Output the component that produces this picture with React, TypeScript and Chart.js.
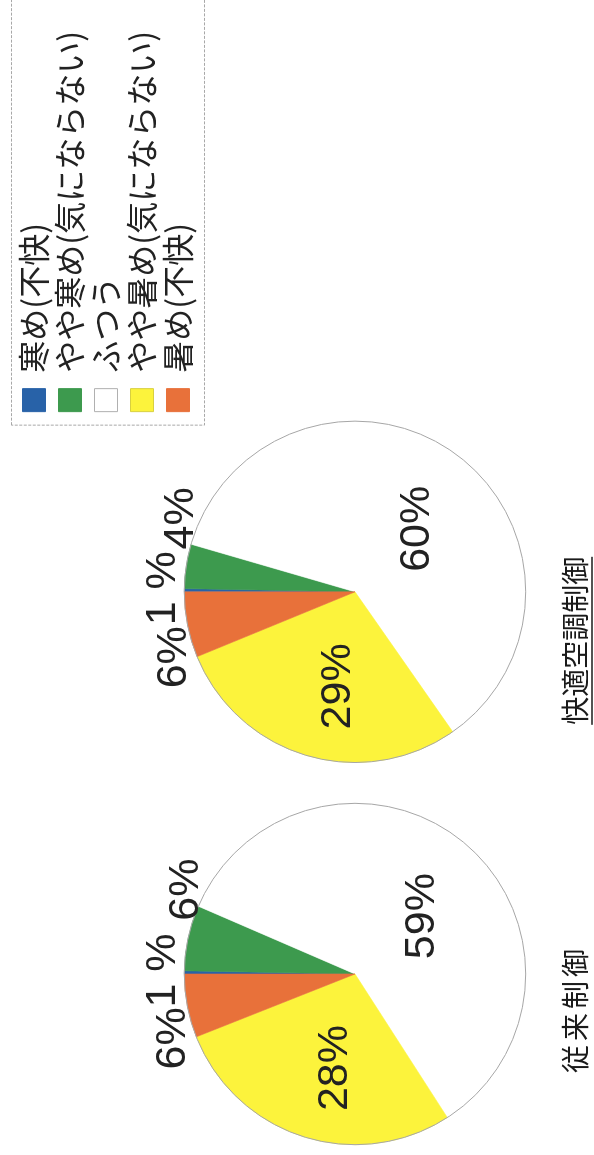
import React, { useEffect, useRef } from "react";
import { Chart, registerables } from "chart.js";

Chart.register(...registerables);

// ---- data ----
const categories = ["寒め(不快)", "やや寒め(気にならない)", "ふつう", "やや暑め(気にならない)", "暑め(不快)"];
const chartTitles = ["従来制御", "快適空調制御"];
const conventionalValues = [0.3, 6.2, 59.4, 28.1, 6.0];
const comfortValues = [0.3, 4.2, 60.8, 28.5, 6.2];
const conventionalLabels = ["1 %", "6%", "59%", "28%", "6%"];
const comfortLabels = ["1 %", "4%", "60%", "29%", "6%"];

// ---- styles ----
const sliceColors = ["#2862a8", "#3d9a4e", "#ffffff", "#fcf33c", "#e8713a"];
const legendStroke = ["#2862a8", "#3d9a4e", "#b0b0b0", "#d8d040", "#e8713a"];
// label placement: angular offset from slice middle (deg, clockwise) and radius factor
const labelAngleOffset = [0.5, 14, 8, -5, -8.5];
const labelRadiusFactor = [1.135, 1.117, 0.51, 0.565, 1.14];

const JP = "'Noto Sans CJK JP', 'Noto Sans', sans-serif";
const NUM = "'Liberation Sans', Arial, sans-serif";

function makeDecor(labels: string[], title: string, titleOffset: number, underline: boolean, spacing: number, legendBorder: boolean) {
  return {
    id: "decor",
    afterDatasetsDraw(chart: any) {
      const ctx = chart.ctx;
      const meta = chart.getDatasetMeta(0);
      const arcs = meta.data;
      if (!arcs.length) return;
      const p0 = arcs[0].getProps(["x", "y", "outerRadius"], true);
      ctx.save();
      ctx.strokeStyle = "#a6a6a6";
      ctx.lineWidth = 1;
      ctx.beginPath();
      ctx.arc(p0.x, p0.y, p0.outerRadius, 0, Math.PI * 2);
      ctx.stroke();
      ctx.restore();
      ctx.save();
      ctx.font = `43px ${NUM}`;
      ctx.fillStyle = "#222";
      ctx.textAlign = "center";
      ctx.textBaseline = "middle";
      arcs.forEach((arc: any, i: number) => {
        const p = arc.getProps(["x", "y", "startAngle", "endAngle", "outerRadius"], true);
        const mid = (p.startAngle + p.endAngle) / 2 + (labelAngleOffset[i] * Math.PI) / 180;
        const r = p.outerRadius * labelRadiusFactor[i];
        ctx.fillText(labels[i], p.x + Math.cos(mid) * r, p.y + Math.sin(mid) * r + 2);
      });
      ctx.restore();
    },
    afterDraw(chart: any) {
      const ctx = chart.ctx;
      const area = chart.chartArea;
      const cx = (area.left + area.right) / 2 + titleOffset;
      const ty = area.bottom + 49;
      ctx.save();
      ctx.font = `28px ${JP}`;
      (ctx as any).letterSpacing = `${spacing}px`;
      ctx.fillStyle = "#1a1a1a";
      ctx.textAlign = "center";
      ctx.textBaseline = "middle";
      ctx.fillText(title, cx, ty);
      const w = ctx.measureText(title).width;
      if (underline) {
        ctx.strokeStyle = "#1a1a1a";
        ctx.lineWidth = 1.6;
        ctx.beginPath();
        ctx.moveTo(cx - w / 2, ty + 17);
        ctx.lineTo(cx + w / 2, ty + 17);
        ctx.stroke();
      }
      ctx.restore();
      if (legendBorder && chart.legend && chart.legend.legendHitBoxes && chart.legend.legendHitBoxes.length) {
        const hb = chart.legend.legendHitBoxes;
        const first = hb[0];
        const last = hb[hb.length - 1];
        ctx.save();
        ctx.strokeStyle = "#a8a8a8";
        ctx.lineWidth = 1;
        ctx.setLineDash([3, 1.5]);
        const left = chart.legend.left - 10;
        ctx.strokeRect(left + 0.5, first.top - 7 + 0.5, chart.width - left + 20, last.top + last.height + 10 - (first.top - 7));
        ctx.restore();
      }
    },
  };
}

function pieConfig(values: number[], labels: string[], idx: number, withLegend: boolean) {
  return {
    type: "pie" as const,
    data: {
      labels: categories,
      datasets: [
        {
          data: values,
          backgroundColor: sliceColors,
          borderColor: sliceColors,
          borderWidth: 0.6,
        },
      ],
    },
    options: {
      responsive: false,
      animation: false as const,
      events: [],
      layout: withLegend
        ? { padding: { left: 17, right: 56, top: 14, bottom: 68 } }
        : { padding: { left: 10, right: 18, top: 184, bottom: 68 } },
      plugins: {
        tooltip: { enabled: false },
        title: { display: false },
        subtitle: withLegend
          ? { display: true, text: "", position: "top" as const, font: { size: 10, lineHeight: 1 }, padding: { top: 160, bottom: 0 } }
          : { display: false },
        legend: withLegend
          ? {
              display: true,
              position: "right" as const,
              align: "start" as const,
              maxWidth: 600,
              labels: {
                boxWidth: 23,
                boxHeight: 23,
                padding: 4,
                color: "#222",
                font: { family: JP, size: 32 },
                generateLabels: () =>
                  categories.map((text, i) => ({
                    text,
                    fillStyle: sliceColors[i],
                    strokeStyle: legendStroke[i],
                    lineWidth: 1,
                    hidden: false,
                    index: i,
                    fontColor: "#222",
                  })),
              },
            }
          : { display: false },
      },
    },
    plugins: [makeDecor(labels, chartTitles[idx], idx === 0 ? -35 : -49, idx === 1, idx === 0 ? 4 : 0, withLegend)],
  };
}

export default function App() {
  const refA = useRef<HTMLCanvasElement>(null);
  const refB = useRef<HTMLCanvasElement>(null);

  useEffect(() => {
    const a = new Chart(refA.current as HTMLCanvasElement, pieConfig(conventionalValues, conventionalLabels, 0, false) as any);
    const b = new Chart(refB.current as HTMLCanvasElement, pieConfig(comfortValues, comfortLabels, 1, true) as any);
    return () => {
      a.destroy();
      b.destroy();
    };
  }, []);

  return (
    <div
      style={{
        position: "fixed",
        left: 0,
        top: 0,
        width: 1155,
        height: 594,
        overflow: "hidden",
        background: "#fff",
        transformOrigin: "0 0",
        transform: "translate(0px, 1155px) rotate(-90deg)",
      }}
    >
      <canvas ref={refA} width={370} height={594} style={{ position: "absolute", left: 0, top: 0, width: 370, height: 594 }} />
      <canvas ref={refB} width={820} height={594} style={{ position: "absolute", left: 370, top: 0, width: 820, height: 594 }} />
    </div>
  );
}
